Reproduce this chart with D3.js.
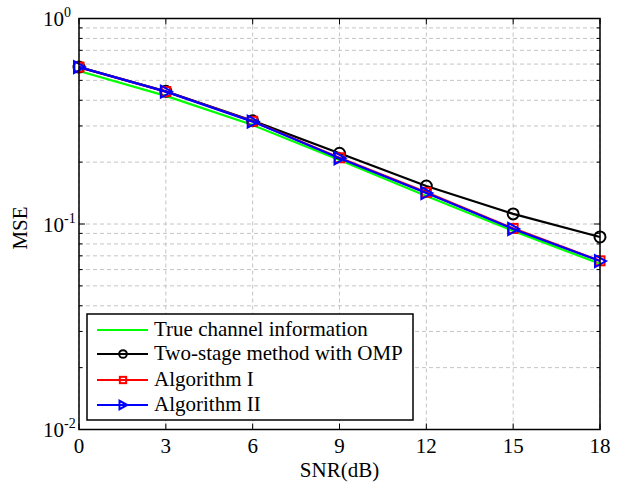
<!DOCTYPE html>
<html><head><meta charset="utf-8">
<script src="https://cdn.jsdelivr.net/npm/d3@7"></script>
<style>body{margin:0;background:#fff}svg{display:block}text{font-family:"Times New Roman","Liberation Serif",serif;fill:#000}</style>
</head><body><svg id="c" width="621" height="483"></svg>
<script>
const snr = [0, 3, 6, 9, 12, 15, 18];
const trueChannel = [0.555, 0.42, 0.303, 0.205, 0.137, 0.0926, 0.064];
const twoStageOMP = [0.58, 0.442, 0.318, 0.221, 0.153, 0.112, 0.0865];
const algorithmI  = [0.58, 0.441, 0.316, 0.21, 0.1425, 0.0952, 0.0662];
const algorithmII = [0.58, 0.4405, 0.315, 0.209, 0.1415, 0.0946, 0.066];
const xTicks = [0, 3, 6, 9, 12, 15, 18];
const yTickExps = [0, -1, -2];
const seriesNames = ["True channel information", "Two-stage method with OMP", "Algorithm I", "Algorithm II"];
const seriesColors = ["#00ff00", "#000000", "#ff0000", "#0000ff"];
const seriesMarkers = ["none", "circle", "square", "triangle"];
const seriesData = [trueChannel, twoStageOMP, algorithmI, algorithmII];

const svg = d3.select("#c");
svg.append("rect").attr("width",621).attr("height",483).attr("fill","#fff");
const L=79, R=600, T=18.5, B=429.5;
const x = d3.scaleLinear().domain([0,18]).range([L,R]);
const y = d3.scaleLog().domain([0.01,1]).range([B,T]);

// grid
const g = svg.append("g");
const minorVals = [];
for (let e=-2;e<0;e++) for (let m=1;m<10;m++) minorVals.push(m*Math.pow(10,e));
minorVals.push(1);
minorVals.forEach(v=>{
  g.append("line").attr("x1",L).attr("x2",R).attr("y1",y(v)).attr("y2",y(v))
   .attr("stroke","#c4c4c4").attr("stroke-width",1).attr("stroke-dasharray","4,3");
});
xTicks.forEach(v=>{
  g.append("line").attr("x1",x(v)).attr("x2",x(v)).attr("y1",T).attr("y2",B)
   .attr("stroke","#c4c4c4").attr("stroke-width",1).attr("stroke-dasharray","4,3");
});

// ticks (inward, all sides)
const tk = svg.append("g").attr("stroke","#000").attr("stroke-width",1);
xTicks.forEach(v=>{
  tk.append("line").attr("x1",x(v)).attr("x2",x(v)).attr("y1",B).attr("y2",B-6);
  tk.append("line").attr("x1",x(v)).attr("x2",x(v)).attr("y1",T).attr("y2",T+6);
});
minorVals.forEach(v=>{
  const major = Math.abs(Math.log10(v)-Math.round(Math.log10(v)))<1e-9;
  const len = major?6:3.5;
  tk.append("line").attr("x1",L).attr("x2",L+len).attr("y1",y(v)).attr("y2",y(v));
  tk.append("line").attr("x1",R).attr("x2",R-len).attr("y1",y(v)).attr("y2",y(v));
});

// series
const line = d3.line().x((d,i)=>x(snr[i])).y(d=>y(d));
seriesData.forEach((data,si)=>{
  const col = seriesColors[si];
  svg.append("path").attr("d",line(data)).attr("fill","none").attr("stroke",col).attr("stroke-width",2.2);
  const mk = seriesMarkers[si];
  if (mk==="none") return;
  data.forEach((d,i)=>drawMarker(svg, mk, x(snr[i]), y(d), col, 1));
});
function drawMarker(sel, mk, cx, cy, col, s){
  if (mk==="triangle"){
    const p = d3.path(); p.moveTo(cx+6*s,cy); p.lineTo(cx-5*s,cy-6*s); p.lineTo(cx-5*s,cy+6*s); p.closePath();
    sel.append("path").attr("d",p.toString()).attr("fill","none").attr("stroke",col).attr("stroke-width",2);
  } else if (mk==="circle"){
    sel.append("circle").attr("cx",cx).attr("cy",cy).attr("r",5.5*s).attr("fill","none").attr("stroke",col).attr("stroke-width",2);
  } else {
    sel.append("rect").attr("x",cx-4.5*s).attr("y",cy-4.5*s).attr("width",9*s).attr("height",9*s).attr("fill","none").attr("stroke",col).attr("stroke-width",2);
  }
}

// box
svg.append("rect").attr("x",L).attr("y",T).attr("width",R-L).attr("height",B-T)
  .attr("fill","none").attr("stroke","#000").attr("stroke-width",1.5);

// x tick labels
xTicks.forEach(v=>{
  svg.append("text").attr("x",x(v)).attr("y",453).attr("text-anchor","middle").attr("font-size",21).text(v);
});
svg.append("text").attr("x",(L+R)/2).attr("y",477).attr("text-anchor","middle").attr("font-size",21).text("SNR(dB)");

// y tick labels
yTickExps.forEach(e=>{
  const t = svg.append("text").attr("x",43).attr("y",y(Math.pow(10,e))+7.5).attr("font-size",21);
  t.append("tspan").text("10");
  t.append("tspan").attr("dy",-9).attr("font-size",14).text(e);
});
svg.append("text").attr("transform","translate(27,228) rotate(-90)").attr("text-anchor","middle").attr("font-size",21).text("MSE");

// legend
const lg = svg.append("g");
lg.append("rect").attr("x",87).attr("y",314).attr("width",326).attr("height",106)
  .attr("fill","#fff").attr("stroke","#000").attr("stroke-width",1.5);
const ly = [330, 354, 380, 405];
seriesNames.forEach((n,i)=>{
  lg.append("line").attr("x1",97).attr("x2",148).attr("y1",ly[i]).attr("y2",ly[i]).attr("stroke",seriesColors[i]).attr("stroke-width",2.2);
  if (seriesMarkers[i]!=="none") drawMarker(lg, seriesMarkers[i], 123, ly[i], seriesColors[i], 0.7);
  lg.append("text").attr("x",154).attr("y",ly[i]+6).attr("font-size",21).text(n);
});
</script></body></html>
